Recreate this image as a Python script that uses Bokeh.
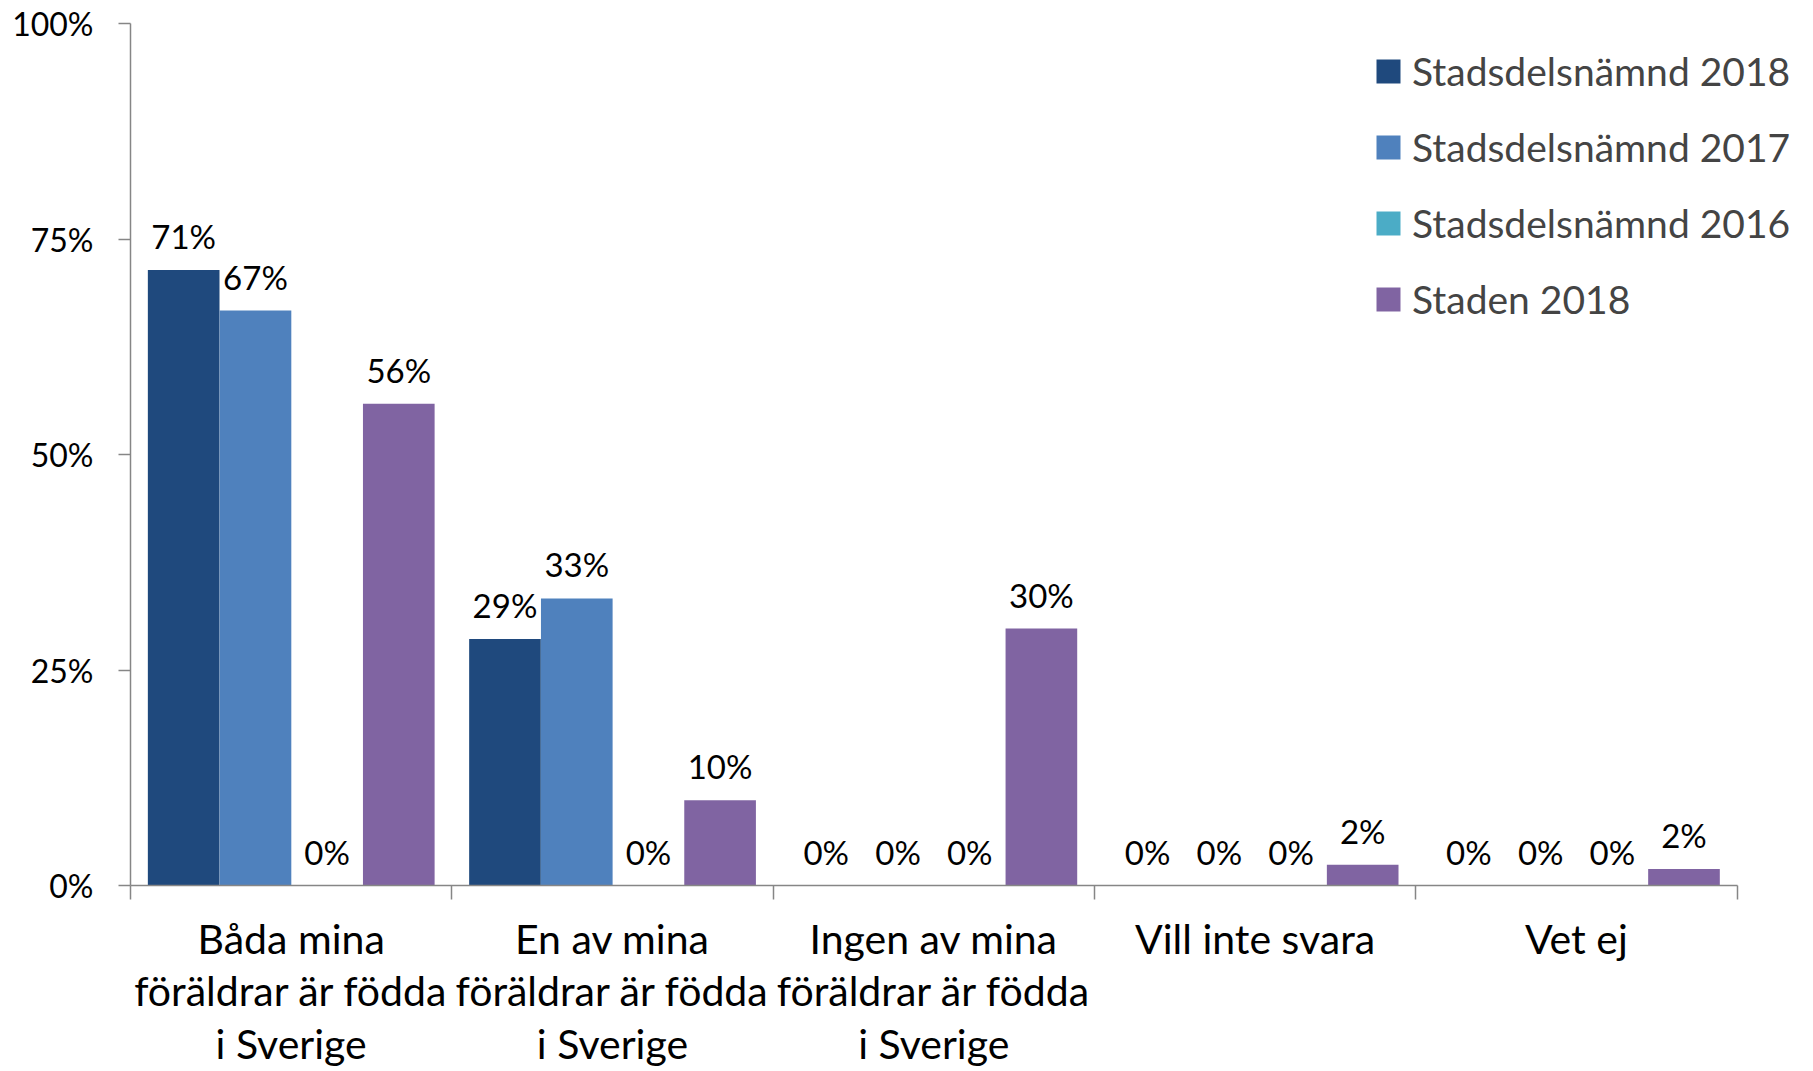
from bokeh.plotting import figure
from bokeh.models import ColumnDataSource, FixedTicker, Legend, LegendItem, Range1d
from bokeh.core.properties import value
from bokeh.embed import file_html
from bokeh.resources import INLINE

categories = ["Båda mina\nföräldrar är födda\ni Sverige",
              "En av mina\nföräldrar är födda\ni Sverige",
              "Ingen av mina\nföräldrar är födda\ni Sverige",
              "Vill inte svara",
              "Vet ej"]
series = ["Stadsdelsnämnd 2018", "Stadsdelsnämnd 2017", "Stadsdelsnämnd 2016", "Staden 2018"]
colors = ["#1F497D", "#4F81BD", "#4BACC6", "#8064A2"]
sdn_2018 = [71.4, 28.6, 0, 0, 0]
sdn_2017 = [66.7, 33.3, 0, 0, 0]
sdn_2016 = [0, 0, 0, 0, 0]
staden_2018 = [55.9, 9.9, 29.8, 2.4, 1.9]
y_ticks = [0, 25, 50, 75, 100]

FONT = "Lato"
W, H = 1797, 1071
unit = (1737 - 130.5) / 5.0
left_border = 130
right_border = 5
top_border = 23
bottom_border = H - 888
frame_w = W - left_border - right_border

p = figure(width=W, height=H, output_backend="svg", toolbar_location=None,
           x_range=Range1d(0, frame_w / unit), y_range=Range1d(0, 100),
           min_border_left=left_border, min_border_right=right_border,
           min_border_top=top_border, min_border_bottom=bottom_border)
p.outline_line_color = None
p.grid.visible = False
p.background_fill_color = "white"

bw = 0.223
offsets = [0.1655, 0.389, 0.612, 0.835]
all_vals = [sdn_2018, sdn_2017, sdn_2016, staden_2018]
items = []
for k, (name, col, vals) in enumerate(zip(series, colors, all_vals)):
    xs = [i + offsets[k] for i in range(len(categories))]
    src = ColumnDataSource(dict(x=xs, top=vals, lab=[f"{round(v)}%" for v in vals]))
    r = p.vbar(x="x", top="top", width=bw, bottom=0, source=src, fill_color=col, line_color=None)
    p.text(x="x", y="top", text="lab", source=src, text_align="center", text_baseline="alphabetic",
           y_offset=-34, text_font=value(FONT), text_font_size="33px", text_color="black")
    items.append(LegendItem(label=name, renderers=[r]))

legend = Legend(items=items, location=(1243, 563), padding=0, margin=0,
                glyph_width=30, glyph_height=30, label_standoff=9, spacing=30,
                label_text_font=FONT, label_text_font_size="39px",
                border_line_color=None, background_fill_alpha=0)
p.add_layout(legend)

# axes
xa = p.xaxis[0]
xa.ticker = FixedTicker(ticks=[i + 0.5 for i in range(len(categories))],
                        minor_ticks=list(range(len(categories) + 1)))
xa.major_label_overrides = {i + 0.5: c for i, c in enumerate(categories)}
xa.bounds = (0, 5)
xa.major_tick_line_color = None
xa.minor_tick_out = 14
xa.minor_tick_in = 0
xa.minor_tick_line_color = "#868686"
xa.minor_tick_line_width = 1.5
xa.axis_line_color = "#868686"
xa.axis_line_width = 1.5
xa.major_label_standoff = 14
xa.major_label_text_font = FONT
xa.major_label_text_font_size = "41px"
xa.major_label_text_line_height = 1.08
xa.major_label_text_color = "black"

ya = p.yaxis[0]
ya.ticker = FixedTicker(ticks=y_ticks, minor_ticks=[])
ya.major_label_overrides = {t: f"{t}%" for t in y_ticks}
ya.major_tick_out = 12
ya.major_tick_in = 0
ya.major_tick_line_color = "#868686"
ya.major_tick_line_width = 1.5
ya.axis_line_color = "#868686"
ya.axis_line_width = 1.5
ya.major_label_standoff = 25
ya.major_label_text_font = FONT
ya.major_label_text_font_size = "32px"
ya.major_label_text_color = "black"

open("out.html", "w").write(file_html(p, INLINE))
